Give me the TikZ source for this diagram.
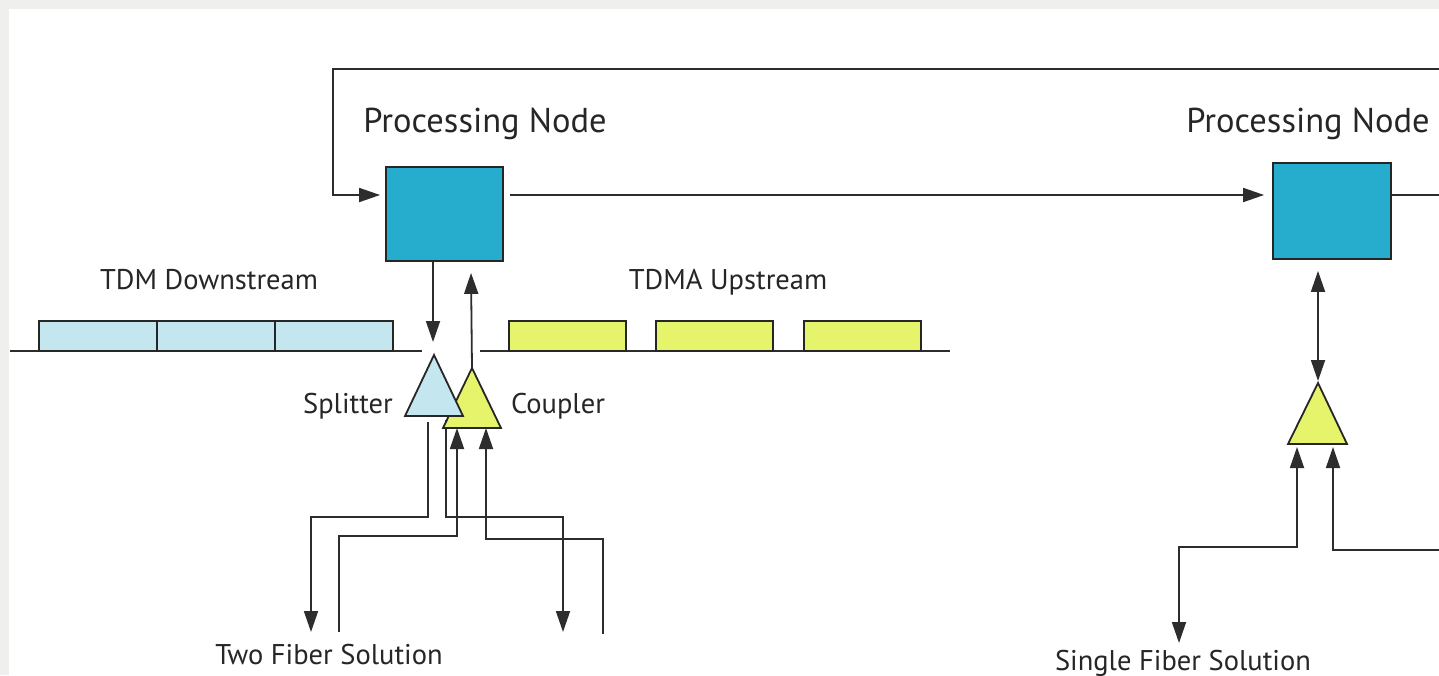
\documentclass[tikz,border=0pt]{standalone}
\usepackage{fontspec}
\setmainfont{PT Sans}
\usetikzlibrary{arrows.meta}

\definecolor{nodeblue}{RGB}{38,173,206}
\definecolor{downblue}{RGB}{195,230,239}
\definecolor{upyellow}{RGB}{230,244,108}
\definecolor{framegray}{RGB}{239,239,237}
\definecolor{wiregray}{RGB}{45,45,45}

\tikzset{
  procbox/.style={draw=black!85, line width=1.8pt, fill=nodeblue, minimum width=117pt, minimum height=94pt, inner sep=0pt},
  wire/.style={draw=wiregray, line width=1.8pt},
  tip/.style={-{Triangle[length=21pt,width=14pt]}},
  bothtips/.style={{Triangle[length=21pt,width=14pt]}-{Triangle[length=21pt,width=14pt]}},
  slotdown/.style={draw=black!85, line width=1.6pt, fill=downblue},
  slotup/.style={draw=black!85, line width=1.6pt, fill=upyellow},
  bigtxt/.style={font=\fontsize{34.5}{37}\selectfont, text=black!85, anchor=base, inner sep=0pt},
  smalltxt/.style={font=\fontsize{28.5}{31}\selectfont, text=black!85, anchor=base, inner sep=0pt}
}

\begin{document}
\begin{tikzpicture}[x=1pt,y=-1pt]
  % frame
  \fill[framegray] (0,0) rectangle (1439,675);
  \fill[white] (9,9) rectangle (1439,675);
  \useasboundingbox (0,0) rectangle (1439,675);

  % processing nodes
  \node[procbox] (pnA) at (444.5,214) {};
  \node[procbox, minimum width=118pt, minimum height=96pt] (pnB) at (1332,211) {};
  \node[bigtxt] (pnAtxt) at (485,132) {Processing Node};
  \node[bigtxt] (pnBtxt) at (1308,132) {Processing Node};

  % ring
  \coordinate (ringR) at (1439,69);
  \coordinate (outR) at (1439,195);
  \draw[wire,tip,shorten >=5pt] (ringR) -- (333,69) |- ([yshift=19pt]pnA.west);
  \draw[wire,tip,shorten <=6pt,shorten >=8pt] ([yshift=19pt]pnA.east) -- ([yshift=16pt]pnB.west);
  \draw[wire] ([yshift=16pt]pnB.east) -- (outR);

  % TDM downstream
  \draw[wire,line width=1.5pt] (10,351) -- (422,351);
  \foreach \x in {39,157,275} \filldraw[slotdown] (\x,321) rectangle ++(118,30);
  \node[smalltxt] (tdm) at (209,289) {TDM Downstream};

  % TDMA upstream
  \draw[wire,line width=1.5pt] (480,351) -- (950,351);
  \foreach \x in {509,656,804} \filldraw[slotup] (\x,321) rectangle ++(117,30);
  \node[smalltxt] (tdma) at (728,289) {TDMA Upstream};

  % two fiber solution
  \coordinate (spl) at (434,355);
  \coordinate (cpl) at (472,368);
  \draw[wire,tip] ([xshift=-11.5pt]pnA.south) -- (433,342);
  \draw[wire,tip] (cpl) -- ([xshift=26.5pt,yshift=-11pt]pnA.south);
  \draw[wire,tip] (428,422) |- (311,517) -- (311,632);
  \draw[wire,tip] (339,632) |- (457,536) -- (457,428);
  \draw[wire,tip] (446,420) |- (563,517) -- (563,632);
  \draw[wire,tip] (603,634) |- (486,539) -- (486,428);
  \filldraw[fill=upyellow, draw=black!85, line width=1.8pt, line join=miter] (cpl) -- (501,428) -- (443,428) -- cycle;
  \filldraw[fill=downblue, draw=black!85, line width=1.8pt, line join=miter] (spl) -- (463,416) -- (405,416) -- cycle;
  \node[smalltxt] (splt) at (348,413) {Splitter};
  \node[smalltxt] (cplt) at (558,413) {Coupler};
  \node[smalltxt] (two) at (329,664) {Two Fiber Solution};

  % single fiber solution
  \coordinate (sfc) at (1318,383);
  \coordinate (inR) at (1439,550);
  \draw[wire,bothtips] ([xshift=-14pt,yshift=-11pt]pnB.south) -- (1318,381);
  \draw[wire,bothtips] (1297,447) |- (1179,547) -- (1179,643);
  \draw[wire,tip] (inR) -| (1333,447);
  \filldraw[fill=upyellow, draw=black!85, line width=1.8pt, line join=miter] (sfc) -- (1347,444) -- (1288,444) -- cycle;
  \node[smalltxt] (single) at (1183,670) {Single Fiber Solution};
\end{tikzpicture}
\end{document}
